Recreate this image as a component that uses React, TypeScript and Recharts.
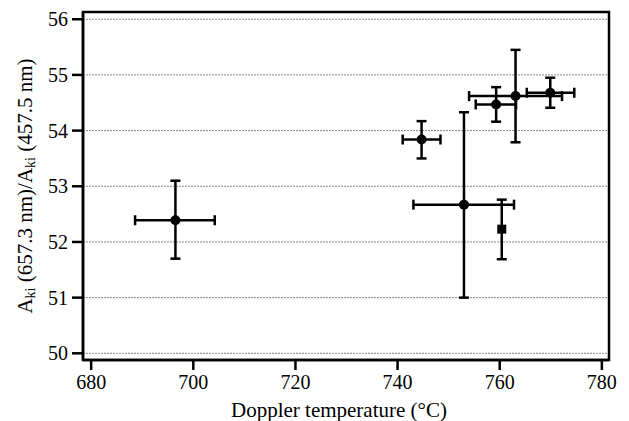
import React from 'react';
import { ScatterChart, Scatter, XAxis, YAxis, CartesianGrid, ErrorBar, ReferenceArea } from 'recharts';

const temps = [696.5, 744.7, 753.0, 759.3, 763.1, 769.9];
const ratios = [52.39, 53.84, 52.67, 54.47, 54.62, 54.68];
const tempErrLow = [7.9, 3.7, 9.9, 4.0, 9.1, 4.6];
const tempErrHigh = [7.7, 3.7, 9.8, 3.9, 9.1, 4.7];
const ratioErrLow = [0.69, 0.34, 1.67, 0.31, 0.83, 0.27];
const ratioErrHigh = [0.71, 0.33, 1.66, 0.31, 0.83, 0.27];

const squareTemps = [760.4];
const squareRatios = [52.23];
const squareRatioErrLow = [0.54];
const squareRatioErrHigh = [0.53];

const xTicks = [680, 700, 720, 740, 760, 780];
const yTicks = [50, 51, 52, 53, 54, 55, 56];
const xDomain = [678.4, 781.4];
const yDomain = [49.88, 56.13];

const circleData = temps.map((t, i) => ({
  x: t,
  y: ratios[i],
  ex: [tempErrLow[i], tempErrHigh[i]],
  ey: [ratioErrLow[i], ratioErrHigh[i]],
}));

const squareData = squareTemps.map((t, i) => ({
  x: t,
  y: squareRatios[i],
  ey: [squareRatioErrLow[i], squareRatioErrHigh[i]],
}));

const FONT = '"Liberation Serif", "Times New Roman", serif';

const CircleShape = (props: any) => <circle cx={props.cx} cy={props.cy} r={5} fill="#000" />;
const SquareShape = (props: any) => (
  <rect x={props.cx - 4.5} y={props.cy - 4.5} width={9} height={9} fill="#000" />
);

const YLabel = (props: any) => {
  const vb = props.viewBox || {};
  const cx = 27;
  const cy = (vb.y ?? 12) + (vb.height ?? 348) / 2;
  return (
    <text
      x={cx}
      y={cy}
      transform={`rotate(-90, ${cx}, ${cy})`}
      textAnchor="middle"
      dominantBaseline="middle"
      fontFamily={FONT}
      fontSize={21}
      fill="#000"
    >
      A<tspan fontSize={14} dy={5}>ki</tspan>
      <tspan fontSize={21} dy={-5}> (657.3 nm)/A</tspan>
      <tspan fontSize={14} dy={5}>ki</tspan>
      <tspan fontSize={21} dy={-5}> (457.5 nm)</tspan>
    </text>
  );
};

const XLabel = (props: any) => {
  const vb = props.viewBox || {};
  const cx = (vb.x ?? 83) + (vb.width ?? 526) / 2 - 7;
  return (
    <text x={cx} y={417} textAnchor="middle" fontFamily={FONT} fontSize={21} fill="#000">
      Doppler temperature (°C)
    </text>
  );
};

export default function App() {
  return (
    <div style={{ position: 'absolute', left: 0, top: 0, background: '#fff' }}>
      <ScatterChart width={629} height={421} margin={{ top: 12, right: 20, bottom: 0, left: 0 }}>
        <CartesianGrid horizontal vertical={false} stroke="#888" strokeDasharray="2 1" />
        <XAxis
          type="number"
          dataKey="x"
          domain={xDomain}
          ticks={xTicks}
          interval={0}
          height={61}
          allowDataOverflow
          axisLine={{ stroke: '#000', strokeWidth: 2.5 }}
          tickLine={{ stroke: '#000', strokeWidth: 2.5 }}
          tickSize={10}
          tickMargin={5}
          tick={{ fill: '#000', fontFamily: FONT, fontSize: 20 }}
          label={<XLabel />}
        />
        <YAxis
          type="number"
          dataKey="y"
          domain={yDomain}
          ticks={yTicks}
          interval={0}
          width={83}
          allowDataOverflow
          axisLine={{ stroke: '#000', strokeWidth: 2.5 }}
          tickLine={{ stroke: '#000', strokeWidth: 2.5 }}
          tickSize={11}
          tickMargin={4}
          tick={{ fill: '#000', fontFamily: FONT, fontSize: 20 }}
          label={<YLabel />}
        />
        <ReferenceArea
          x1={xDomain[0]}
          x2={xDomain[1]}
          y1={yDomain[0]}
          y2={yDomain[1]}
          fill="none"
          fillOpacity={0}
          stroke="#000"
          strokeWidth={2.5}
          ifOverflow="visible"
        />
        <Scatter data={circleData} shape={CircleShape} isAnimationActive={false}>
          <ErrorBar dataKey="ex" direction="x" width={5} stroke="#000" strokeWidth={2.5} />
          <ErrorBar dataKey="ey" direction="y" width={5} stroke="#000" strokeWidth={2.5} />
        </Scatter>
        <Scatter data={squareData} shape={SquareShape} isAnimationActive={false}>
          <ErrorBar dataKey="ey" direction="y" width={5} stroke="#000" strokeWidth={2.5} />
        </Scatter>
      </ScatterChart>
    </div>
  );
}
